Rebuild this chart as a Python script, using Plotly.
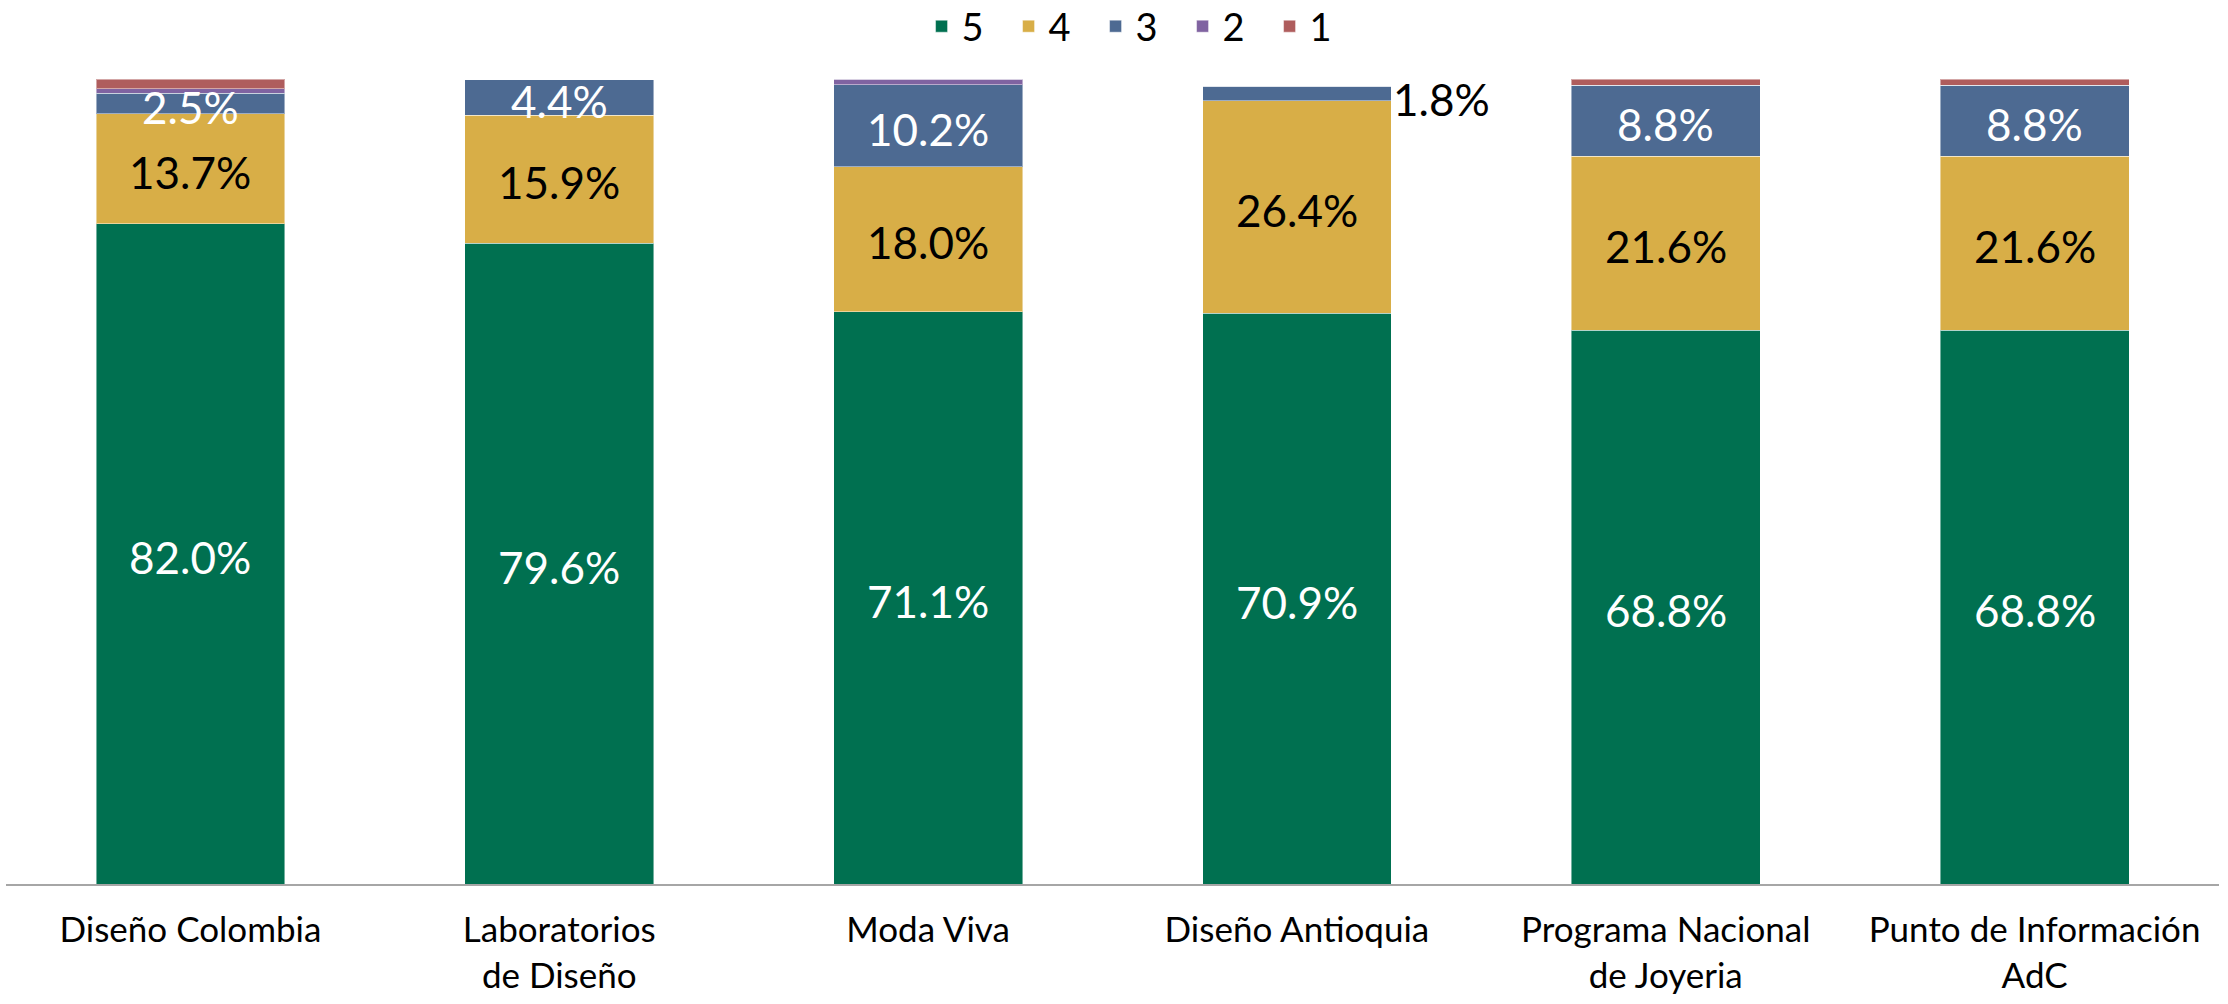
import plotly.graph_objects as go

categories = ["Diseño Colombia", "Laboratorios<br>de Diseño", "Moda Viva",
              "Diseño Antioquia", "Programa Nacional<br>de Joyeria",
              "Punto de Información<br>AdC"]
series_names = ["5", "4", "3", "2", "1"]
v5 = [82.0, 79.6, 71.1, 70.9, 68.8, 68.8]
v4 = [13.7, 15.9, 18.0, 26.4, 21.6, 21.6]
v3 = [2.5, 4.4, 10.2, 1.8, 8.8, 8.8]
v2 = [0.6, 0.0, 0.7, 0.0, 0.0, 0.0]
v1 = [1.2, 0.0, 0.0, 0.0, 0.8, 0.8]
colors = ["#007050", "#D8AE47", "#4D6A92", "#8063A1", "#AF5D5D"]
label_colors = ["white", "black", "white", None, None]
show_labels = [True, True, True, False, False]
outside_label_idx = 3  # the 1.8% label sits beside the bar

FONT = "Lato"
LABEL_SIZE = 44
all_vals = [v5, v4, v3, v2, v1]

fig = go.Figure()
for k, (name, vals, col) in enumerate(zip(series_names, all_vals, colors)):
    fig.add_trace(go.Bar(
        name=name, x=categories, y=vals, marker_color=col,
        marker_line=dict(width=1, color="rgba(255,255,255,0.45)"),
        hoverinfo="skip",
    ))

# data labels drawn on top of all segments, at each segment's middle
running = [0.0] * len(categories)
for k, vals in enumerate(all_vals):
    for i, v in enumerate(vals):
        if not show_labels[k]:
            continue
        outside = series_names[k] == "3" and i == outside_label_idx
        fig.add_annotation(
            x=categories[i], y=running[i] + v / 2,
            text=f"{v:.1f}%", showarrow=False,
            xanchor="left" if outside else "center", yanchor="middle",
            xshift=94 if outside else 0, yshift=-6 if outside else -3,
            font=dict(family=FONT, size=LABEL_SIZE,
                      color="black" if outside else label_colors[k]),
        )
    running = [r + v for r, v in zip(running, vals)]

fig.update_layout(
    barmode="stack", bargap=0.488,
    width=2228, height=1004,
    margin=dict(l=6, r=9, t=79, b=120),
    paper_bgcolor="white", plot_bgcolor="white",
    font=dict(family=FONT, color="black"),
    legend=dict(orientation="h", x=0.512, xanchor="center",
                yref="container", y=1 - 26.5 / 1004, yanchor="middle",
                font=dict(size=38, family=FONT), traceorder="normal",
                entrywidth=42, entrywidthmode="pixels"),
    showlegend=True,
)
fig.update_xaxes(showline=True, linecolor="#A6A6A6", linewidth=2,
                 tickfont=dict(size=35, family=FONT, color="black"),
                 ticks="", ticklabelstandoff=14, automargin=False)
fig.update_yaxes(range=[0, 100], visible=False, showgrid=False, automargin=False)

fig.write_html("out.html", config={"displayModeBar": False},
               post_script="document.body.style.margin='0';document.body.style.padding='0';")
